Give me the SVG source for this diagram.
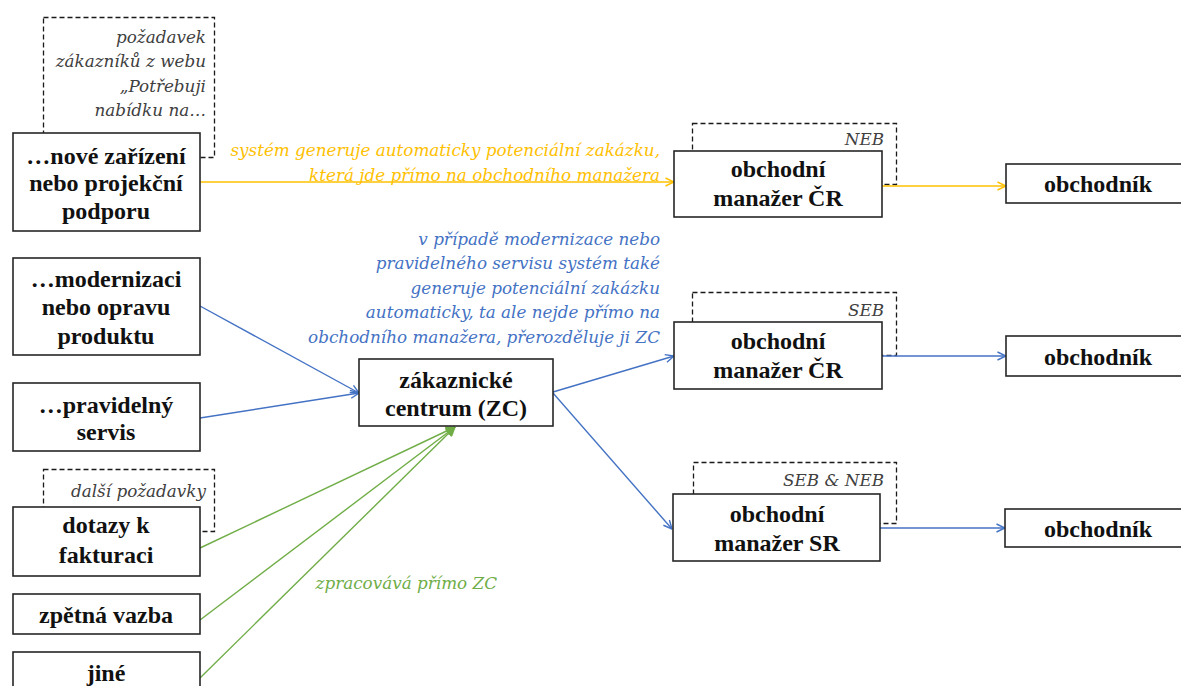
<svg xmlns="http://www.w3.org/2000/svg" width="1181" height="686" viewBox="0 0 1181 686">
  <style>
    .box { fill: #fff; stroke: #262626; stroke-width: 1.6; }
    .dash { fill: none; stroke: #1a1a1a; stroke-width: 1.3; stroke-dasharray: 5 3; }
    .t { font-family: "Liberation Serif", "Times New Roman", serif; font-weight: bold; font-size: 24px; fill: #111; text-anchor: middle; }
    .note { font-family: "DejaVu Serif", serif; font-style: italic; font-size: 16.8px; fill: #404040; text-anchor: end; }
    .lbl { font-family: "DejaVu Serif", serif; font-style: italic; font-size: 16.8px; text-anchor: end; }
    .y { stroke: #FFC000; }
    .b { stroke: #4472C4; }
    .g { stroke: #70AD47; }
    .c { fill: none; stroke-width: 1.4; }
  </style>
  <defs>
    <marker id="ay" viewBox="0 0 10 10" refX="9.5" refY="5" markerWidth="10" markerHeight="10" markerUnits="userSpaceOnUse" orient="auto">
      <path d="M1,1 L9.5,5 L1,9" fill="none" stroke="#FFC000" stroke-width="1.4"/>
    </marker>
    <marker id="ab" viewBox="0 0 10 10" refX="9.5" refY="5" markerWidth="10" markerHeight="10" markerUnits="userSpaceOnUse" orient="auto">
      <path d="M1,1 L9.5,5 L1,9" fill="none" stroke="#4472C4" stroke-width="1.4"/>
    </marker>
    <marker id="ag" viewBox="0 0 10 10" refX="9.5" refY="5" markerWidth="10" markerHeight="10" markerUnits="userSpaceOnUse" orient="auto">
      <path d="M1,1 L9.5,5 L1,9 Z" fill="#70AD47" stroke="#70AD47" stroke-width="1.2"/>
    </marker>
  </defs>

  <rect width="1181" height="686" fill="#fff"/>

  <!-- dashed side notes (behind nodes) -->
  <g id="notes">
    <rect class="dash" x="43.5" y="17.5" width="171" height="140"/>
    <text class="note" x="206" y="43">požadavek</text>
    <text class="note" x="206" y="67">zákazníků z webu</text>
    <text class="note" x="206" y="92">„Potřebuji</text>
    <text class="note" x="206" y="116">nabídku na…</text>

    <rect class="dash" x="43.5" y="469.5" width="171" height="62"/>
    <text class="note" x="206" y="497">další požadavky</text>

    <rect class="dash" x="692.5" y="123.5" width="204" height="61"/>
    <text class="note" x="884" y="145">NEB</text>
    <rect class="dash" x="692.5" y="292.5" width="204" height="63"/>
    <text class="note" x="884" y="316">SEB</text>
    <rect class="dash" x="693.5" y="462.5" width="203" height="61"/>
    <text class="note" x="884" y="486">SEB &amp; NEB</text>
  </g>

  <!-- connectors -->
  <g id="connectors">
    <line class="c y" x1="200" y1="182" x2="674" y2="182" marker-end="url(#ay)"/>
    <line class="c y" x1="882" y1="186" x2="1006" y2="186" marker-end="url(#ay)"/>

    <line class="c b" x1="200" y1="306" x2="359" y2="393" marker-end="url(#ab)"/>
    <line class="c b" x1="200" y1="418" x2="359" y2="393" marker-end="url(#ab)"/>
    <line class="c b" x1="553" y1="392" x2="674" y2="356" marker-end="url(#ab)"/>
    <line class="c b" x1="553" y1="393" x2="672" y2="529" marker-end="url(#ab)"/>
    <line class="c b" x1="882" y1="356" x2="1006" y2="356" marker-end="url(#ab)"/>
    <line class="c b" x1="880" y1="528" x2="1005" y2="528" marker-end="url(#ab)"/>

    <line class="c g" x1="200" y1="548" x2="455" y2="427" marker-end="url(#ag)"/>
    <line class="c g" x1="200" y1="620" x2="455" y2="427" marker-end="url(#ag)"/>
    <line class="c g" x1="200" y1="678" x2="455" y2="427" marker-end="url(#ag)"/>

    <text class="lbl" fill="#FFC000" x="660" y="156">systém generuje automaticky potenciální zakázku,</text>
    <text class="lbl" fill="#FFC000" x="660" y="181">která jde přímo na obchodního manažera</text>

    <text class="lbl" fill="#4472C4" x="660" y="245">v případě modernizace nebo</text>
    <text class="lbl" fill="#4472C4" x="660" y="269">pravidelného servisu systém také</text>
    <text class="lbl" fill="#4472C4" x="660" y="294">generuje potenciální zakázku</text>
    <text class="lbl" fill="#4472C4" x="660" y="318">automaticky, ta ale nejde přímo na</text>
    <text class="lbl" fill="#4472C4" x="660" y="343">obchodního manažera, přerozděluje ji ZC</text>

    <text class="lbl" fill="#70AD47" x="497" y="589">zpracovává přímo ZC</text>
  </g>

  <!-- source nodes -->
  <g id="n-nove">
    <rect class="box" x="13" y="133" width="187" height="98"/>
    <text class="t" x="106" y="164">…nové zařízení</text>
    <text class="t" x="106" y="191">nebo projekční</text>
    <text class="t" x="106" y="219">podporu</text>
  </g>
  <g id="n-modernizace">
    <rect class="box" x="13" y="258" width="187" height="97"/>
    <text class="t" x="106" y="287">…modernizaci</text>
    <text class="t" x="106" y="315">nebo opravu</text>
    <text class="t" x="106" y="344">produktu</text>
  </g>
  <g id="n-servis">
    <rect class="box" x="13" y="383" width="187" height="68"/>
    <text class="t" x="106" y="413">…pravidelný</text>
    <text class="t" x="106" y="440">servis</text>
  </g>
  <g id="n-fakturace">
    <rect class="box" x="13" y="507" width="187" height="69"/>
    <text class="t" x="106" y="533">dotazy k</text>
    <text class="t" x="106" y="563">fakturaci</text>
  </g>
  <g id="n-vazba">
    <rect class="box" x="13" y="594" width="187" height="40"/>
    <text class="t" x="106" y="623">zpětná vazba</text>
  </g>
  <g id="n-jine">
    <rect class="box" x="13" y="652" width="187" height="40"/>
    <text class="t" x="106" y="681">jiné</text>
  </g>

  <!-- customer centre -->
  <g id="n-zc">
    <rect class="box" x="359" y="359" width="194" height="67"/>
    <text class="t" x="456" y="388">zákaznické</text>
    <text class="t" x="456" y="416">centrum (ZC)</text>
  </g>

  <!-- managers -->
  <g id="n-om-neb">
    <rect class="box" x="674" y="151" width="208" height="66"/>
    <text class="t" x="778" y="177">obchodní</text>
    <text class="t" x="778" y="206">manažer ČR</text>
  </g>
  <g id="n-om-seb">
    <rect class="box" x="674" y="322" width="208" height="67"/>
    <text class="t" x="778" y="349">obchodní</text>
    <text class="t" x="778" y="378">manažer ČR</text>
  </g>
  <g id="n-om-sr">
    <rect class="box" x="673" y="494" width="207" height="67"/>
    <text class="t" x="777" y="522">obchodní</text>
    <text class="t" x="777" y="551">manažer SR</text>
  </g>

  <!-- sales reps -->
  <g id="n-obch-1">
    <rect class="box" x="1006" y="164" width="180" height="39"/>
    <text class="t" x="1098" y="192">obchodník</text>
  </g>
  <g id="n-obch-2">
    <rect class="box" x="1006" y="336" width="180" height="40"/>
    <text class="t" x="1098" y="365">obchodník</text>
  </g>
  <g id="n-obch-3">
    <rect class="box" x="1005" y="509" width="181" height="38"/>
    <text class="t" x="1098" y="537">obchodník</text>
  </g>
</svg>
